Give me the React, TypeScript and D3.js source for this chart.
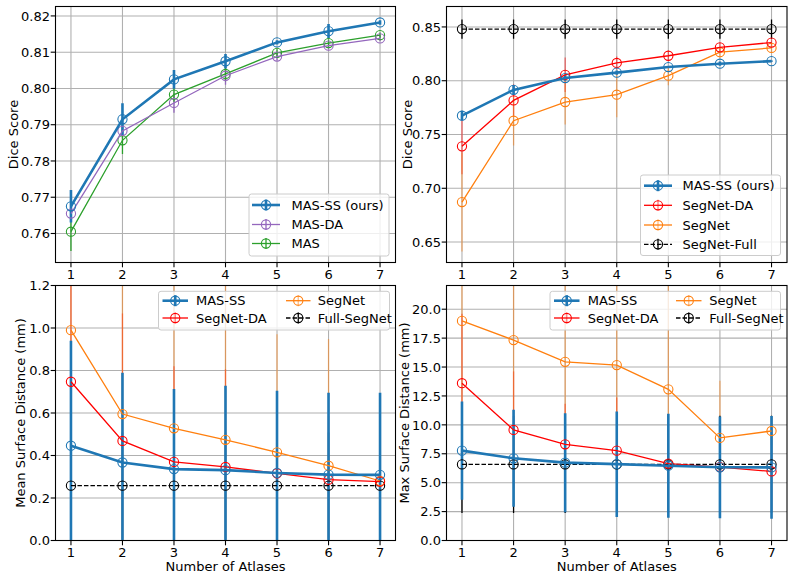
import * as d3 from 'd3';

const atlases = [1, 2, 3, 4, 5, 6, 7];

// Dice, panel 1
const diceMasSS = [0.7675, 0.7915, 0.8025, 0.8075, 0.8127, 0.8158, 0.8182];
const diceMasSSErr = [0.0045, 0.0044, 0.0026, 0.002, 0.0006, 0.002, 0.0006];
const diceMasDA = [0.7655, 0.7883, 0.796, 0.8035, 0.8088, 0.8118, 0.8138];
const diceMasDAErr = [0.002, 0.002, 0.0027, 0.0025, 0.001, 0.001, 0.0008];
const diceMas = [0.7605, 0.7857, 0.7983, 0.804, 0.8098, 0.8125, 0.8147];
const diceMasErr = [0.0053, 0.0038, 0.002, 0.002, 0.001, 0.001, 0.0007];

// Dice, panel 2
const diceSegDA = [0.739, 0.7817, 0.8055, 0.8165, 0.8232, 0.831, 0.8355];
const diceSegDAErr = [0.026, 0.015, 0.016, 0.006, 0.005, 0.004, 0.003];
const diceSeg = [0.6872, 0.7628, 0.7802, 0.787, 0.8047, 0.8265, 0.8305];
const diceSegErr = [0.046, 0.023, 0.021, 0.021, 0.009, 0.005, 0.004];
const diceFull = [0.848, 0.848, 0.848, 0.848, 0.848, 0.848, 0.848];
const diceFullErr = [0.009, 0.009, 0.009, 0.009, 0.009, 0.009, 0.009];

// Mean surface distance
const msdMasSS = [0.446, 0.367, 0.336, 0.331, 0.318, 0.31, 0.309];
const msdMasSSErr = [0.494, 0.423, 0.377, 0.397, 0.387, 0.385, 0.386];
const msdSegDA = [0.747, 0.4685, 0.37, 0.346, 0.316, 0.286, 0.277];
const msdSegDAErr = [0.6, 0.6, 0.45, 0.46, 0.3, 0.3, 0.3];
const msdSeg = [0.99, 0.595, 0.528, 0.474, 0.415, 0.352, 0.28];
const msdSegErr = [0.65, 0.65, 0.7, 0.75, 0.556, 0.596, 0.35];
const msdFull = [0.258, 0.258, 0.258, 0.258, 0.258, 0.258, 0.258];
const msdFullErr = [0.25, 0.25, 0.25, 0.25, 0.25, 0.25, 0.25];

// Max surface distance
const hdMasSS = [7.77, 7.11, 6.73, 6.6, 6.47, 6.33, 6.32];
const hdMasSSErr = [4.25, 4.2, 4.28, 4.56, 4.5, 4.4, 4.45];
const hdSegDA = [13.6, 9.56, 8.32, 7.77, 6.65, 6.35, 5.97];
const hdSegDAErr = [6.0, 5.06, 3.5, 4.6, 4.0, 4.0, 4.0];
const hdSeg = [18.99, 17.33, 15.45, 15.17, 13.07, 8.87, 9.47];
const hdSegErr = [7.0, 6.0, 7.0, 7.0, 9.0, 4.94, 1.2];
const hdFull = [6.58, 6.58, 6.58, 6.58, 6.58, 6.58, 6.58];
const hdFullErr = [4.2, 4.2, 4.2, 4.2, 4.2, 4.2, 4.2];

const BLUE = '#1f77b4';
const PURPLE = '#9467bd';
const GREEN = '#2ca02c';
const RED = '#ff0000';
const ORANGE = '#ff7f0e';
const BLACK = '#000000';
const FONT = 'DejaVu Sans, sans-serif';

interface Series {
  label: string;
  values: number[];
  errors: number[];
  color: string;
  width: number;
  dashed?: boolean;
  errOpacity: number;
}

interface LegendSpec {
  box: [number, number, number, number];
  cols: [number, number, number][];
  rows: number[];
  order: number[];
}

interface PanelProps {
  id: string;
  left: number;
  right: number;
  top: number;
  bottom: number;
  yDomain: [number, number];
  yTicks: number[];
  yFmt: string;
  yLabel: string;
  yLabelX: number;
  xLabel: boolean;
  series: Series[];
  legend: LegendSpec;
}

function Panel(p: PanelProps) {
  const x = d3.scaleLinear().domain([0.7, 7.3]).range([p.left, p.right]);
  const y = d3.scaleLinear().domain(p.yDomain).range([p.bottom, p.top]);
  const fmt = d3.format(p.yFmt);
  const line = d3.line<number>()
    .x((_, i) => x(atlases[i]))
    .y(d => y(d));
  const clipId = `clip-${p.id}`;
  // error bars of the first series (ours) go on top
  const errOrder = [...p.series.slice(1), p.series[0]];
  const lineOrder = [...p.series.slice(1).reverse(), p.series[0]];

  return (
    <g>
      <defs>
        <clipPath id={clipId}>
          <rect x={p.left} y={p.top} width={p.right - p.left} height={p.bottom - p.top} />
        </clipPath>
      </defs>
      {/* grid */}
      {atlases.map(a => (
        <line key={'gx' + a} x1={x(a)} x2={x(a)} y1={p.top} y2={p.bottom} stroke="#b0b0b0" strokeWidth={1.1} />
      ))}
      {p.yTicks.map(t => (
        <line key={'gy' + t} x1={p.left} x2={p.right} y1={y(t)} y2={y(t)} stroke="#b0b0b0" strokeWidth={1.1} />
      ))}
      <g clipPath={`url(#${clipId})`}>
        {errOrder.map((s, si) => (
          <g key={'e' + si} opacity={s.errOpacity}>
            {s.values.map((v, i) => (
              <line key={i} x1={x(atlases[i])} x2={x(atlases[i])}
                y1={y(v - s.errors[i])} y2={y(v + s.errors[i])}
                stroke={s.color} strokeWidth={s.width} />
            ))}
          </g>
        ))}
        {lineOrder.map((s, si) => (
          <g key={'l' + si}>
            <path d={line(s.values) ?? ''} fill="none" stroke={s.color} strokeWidth={s.width}
              strokeDasharray={s.dashed ? '4.5,2' : undefined} />
            {s.values.map((v, i) => (
              <circle key={i} cx={x(atlases[i])} cy={y(v)} r={4.6} fill="none" stroke={s.color} strokeWidth={1.1} />
            ))}
          </g>
        ))}
      </g>
      {/* frame */}
      <rect x={p.left} y={p.top} width={p.right - p.left} height={p.bottom - p.top} fill="none" stroke="#000" strokeWidth={1.1} />
      {/* x ticks */}
      {atlases.map(a => (
        <g key={'xt' + a}>
          <line x1={x(a)} x2={x(a)} y1={p.bottom} y2={p.bottom + 4.8} stroke="#000" strokeWidth={1.1} />
          <text x={x(a)} y={p.bottom + 16.5} textAnchor="middle" fontSize={13} fontFamily={FONT}>{a}</text>
        </g>
      ))}
      {/* y ticks */}
      {p.yTicks.map(t => (
        <g key={'yt' + t}>
          <line x1={p.left - 4.8} x2={p.left} y1={y(t)} y2={y(t)} stroke="#000" strokeWidth={1.1} />
          <text x={p.left - 5.5} y={y(t)} dy="0.36em" textAnchor="end" fontSize={13} fontFamily={FONT}>{fmt(t)}</text>
        </g>
      ))}
      <text transform={`translate(${p.yLabelX},${(p.top + p.bottom) / 2}) rotate(-90)`} textAnchor="middle"
        dy="0.36em" fontSize={13} fontFamily={FONT}>{p.yLabel}</text>
      {p.xLabel && (
        <text x={(p.left + p.right) / 2} y={570.5} textAnchor="middle" fontSize={13} fontFamily={FONT}>Number of Atlases</text>
      )}
      <Legend spec={p.legend} series={p.series} />
    </g>
  );
}

function Legend({ spec, series }: { spec: LegendSpec; series: Series[] }) {
  const [bx, by, bw, bh] = spec.box;
  const nRows = spec.rows.length;
  return (
    <g>
      <rect x={bx} y={by} width={bw} height={bh} rx={2.5} fill="#fff" fillOpacity={0.8} stroke="#cccccc" strokeWidth={1} />
      {spec.order.map((si, k) => {
        const s = series[si];
        const col = spec.cols[Math.floor(k / nRows)];
        const ry = spec.rows[k % nRows];
        const mx = (col[0] + col[1]) / 2;
        return (
          <g key={k}>
            <line x1={mx} x2={mx} y1={ry - 5.5} y2={ry + 5.5} stroke={s.color} strokeWidth={s.width} opacity={s.errOpacity} />
            <line x1={col[0]} x2={col[1]} y1={ry} y2={ry} stroke={s.color} strokeWidth={s.width}
              strokeDasharray={s.dashed ? '4.5,2' : undefined} />
            <circle cx={mx} cy={ry} r={4.6} fill="none" stroke={s.color} strokeWidth={1.1} />
            <text x={col[2]} y={ry} dy="0.36em" fontSize={13} fontFamily={FONT}>{s.label}</text>
          </g>
        );
      })}
    </g>
  );
}

const oursDice: Series = { label: 'MAS-SS (ours)', values: diceMasSS, errors: diceMasSSErr, color: BLUE, width: 2.6, errOpacity: 1 };

const panel1Series: Series[] = [
  oursDice,
  { label: 'MAS-DA', values: diceMasDA, errors: diceMasDAErr, color: PURPLE, width: 1.3, errOpacity: 1 },
  { label: 'MAS', values: diceMas, errors: diceMasErr, color: GREEN, width: 1.3, errOpacity: 1 },
];

const panel2Series: Series[] = [
  oursDice,
  { label: 'SegNet-DA', values: diceSegDA, errors: diceSegDAErr, color: RED, width: 1.3, errOpacity: 0.5 },
  { label: 'SegNet', values: diceSeg, errors: diceSegErr, color: ORANGE, width: 1.3, errOpacity: 0.5 },
  { label: 'SegNet-Full', values: diceFull, errors: diceFullErr, color: BLACK, width: 1.3, dashed: true, errOpacity: 1 },
];

const panel3Series: Series[] = [
  { label: 'MAS-SS', values: msdMasSS, errors: msdMasSSErr, color: BLUE, width: 2.6, errOpacity: 1 },
  { label: 'SegNet-DA', values: msdSegDA, errors: msdSegDAErr, color: RED, width: 1.3, errOpacity: 0.5 },
  { label: 'SegNet', values: msdSeg, errors: msdSegErr, color: ORANGE, width: 1.3, errOpacity: 0.5 },
  { label: 'Full-SegNet', values: msdFull, errors: msdFullErr, color: BLACK, width: 1.3, dashed: true, errOpacity: 1 },
];

const panel4Series: Series[] = [
  { label: 'MAS-SS', values: hdMasSS, errors: hdMasSSErr, color: BLUE, width: 2.6, errOpacity: 1 },
  { label: 'SegNet-DA', values: hdSegDA, errors: hdSegDAErr, color: RED, width: 1.3, errOpacity: 0.5 },
  { label: 'SegNet', values: hdSeg, errors: hdSegErr, color: ORANGE, width: 1.3, errOpacity: 0.5 },
  { label: 'Full-SegNet', values: hdFull, errors: hdFullErr, color: BLACK, width: 1.3, dashed: true, errOpacity: 1 },
];

export default function App() {
  return (
    <div style={{ position: 'absolute', left: 0, top: 0 }}>
      <svg width={794} height={578} style={{ display: 'block', background: '#fff' }}>
        <Panel id="p1" left={55.5} right={395.5} top={6.5} bottom={262.5}
          yDomain={[0.752, 0.8226]} yTicks={[0.76, 0.77, 0.78, 0.79, 0.8, 0.81, 0.82]} yFmt=".2f"
          yLabel="Dice Score" yLabelX={13} xLabel={false} series={panel1Series}
          legend={{ box: [249, 194, 140, 62], cols: [[252, 280, 291.5]], rows: [205, 224.5, 243.5], order: [0, 1, 2] }} />
        <Panel id="p2" left={446.5} right={787} top={6.5} bottom={262.5}
          yDomain={[0.631, 0.869]} yTicks={[0.65, 0.7, 0.75, 0.8, 0.85]} yFmt=".2f"
          yLabel="Dice Score" yLabelX={407} xLabel={false} series={panel2Series}
          legend={{ box: [640.5, 175, 140, 80.5], cols: [[644, 672, 682.5]], rows: [185.7, 205.3, 225, 244.3], order: [0, 1, 2, 3] }} />
        <Panel id="p3" left={55.5} right={395.5} top={285.5} bottom={540.5}
          yDomain={[0, 1.2]} yTicks={[0, 0.2, 0.4, 0.6, 0.8, 1.0, 1.2]} yFmt=".1f"
          yLabel="Mean Surface Distance (mm)" yLabelX={20} xLabel={true} series={panel3Series}
          legend={{ box: [158.5, 291.3, 231, 38.7], cols: [[162.5, 188, 196], [286, 310.5, 317.7]], rows: [300.7, 318], order: [0, 1, 2, 3] }} />
        <Panel id="p4" left={446.5} right={787} top={285.5} bottom={540.5}
          yDomain={[0, 22.05]} yTicks={[0, 2.5, 5, 7.5, 10, 12.5, 15, 17.5, 20]} yFmt=".1f"
          yLabel="Max Surface Distance (mm)" yLabelX={404} xLabel={true} series={panel4Series}
          legend={{ box: [550, 291.3, 230.5, 38.7], cols: [[554, 579.5, 587.7], [676, 701.5, 709.3]], rows: [300.7, 318], order: [0, 1, 2, 3] }} />
      </svg>
    </div>
  );
}
